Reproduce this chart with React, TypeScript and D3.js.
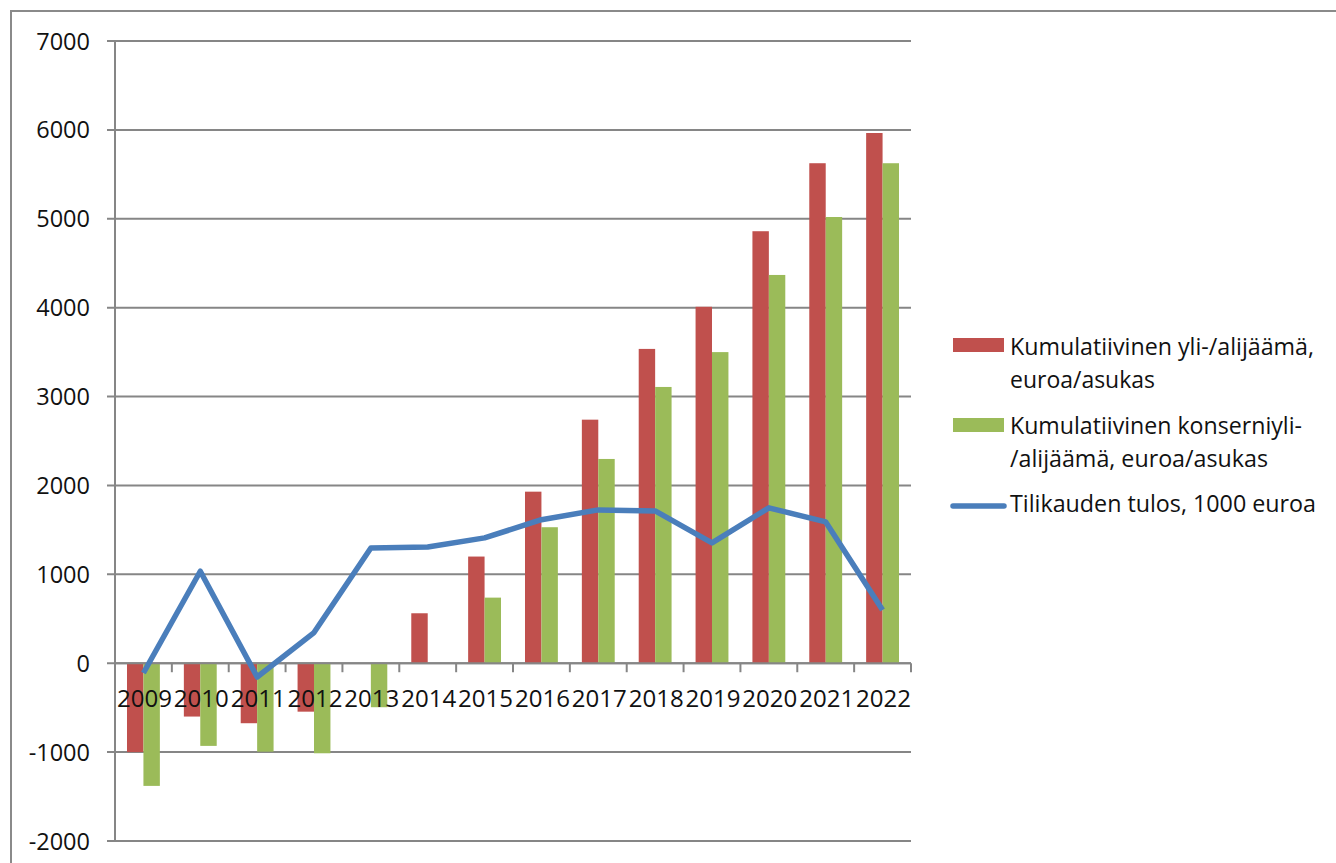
import React from "react";
import * as d3 from "d3";

const years = ["2009","2010","2011","2012","2013","2014","2015","2016","2017","2018","2019","2020","2021","2022"];
const kumulatiivinen = [-1000, -600, -675, -545, 0, 562, 1200, 1930, 2740, 3536, 4010, 4860, 5625, 5965];
const konserni = [-1380, -930, -995, -1013, -495, 0, 738, 1530, 2298, 3108, 3500, 4368, 5020, 5625];
const tulos = [-110, 1035, -155, 345, 1297, 1308, 1410, 1615, 1725, 1713, 1353, 1748, 1590, 600];
const yTicks = [-2000, -1000, 0, 1000, 2000, 3000, 4000, 5000, 6000, 7000];

const legendItems = [
  { lines: ["Kumulatiivinen yli-/alijäämä,", "euroa/asukas"], widths: [304, 145], color: "#C0504D", kind: "bar" },
  { lines: ["Kumulatiivinen konserniyli-", "/alijäämä, euroa/asukas"], widths: [292, 258], color: "#9BBB59", kind: "bar" },
  { lines: ["Tilikauden tulos, 1000 euroa"], widths: [306], color: "#4A7EBB", kind: "line" },
];

const W = 1336, H = 863;
const left = 115, right = 911, top = 41, bottom = 841;
const FONT = "'Open Sans', 'Liberation Sans', sans-serif";

export default function App() {
  const y = d3.scaleLinear().domain([-2000, 7000]).range([bottom, top]);
  const x = d3.scaleBand<string>().domain(years).range([left, right]).paddingInner(0).paddingOuter(0);
  const bw = x.bandwidth();
  const barW = bw * 0.289;
  const offset = (bw - 2 * barW) / 2;
  const y0 = y(0);
  const line = d3.line<number>().x((_, i) => (x(years[i]) as number) + bw / 2).y((d) => y(d)).curve(d3.curveLinear);
  const grid = "#868686";

  const legendTops = [355, 434, 512];
  const swatchCenters = [345, 425, 506];

  return (
    <svg width={W} height={H} style={{ position: "absolute", left: 0, top: 0, background: "#fff" }} fontFamily={FONT}>
      <rect x={11} y={11} width={W + 20} height={H + 20} fill="#fff" stroke="#8A8A8A" strokeWidth={2} />
      {yTicks.map((t) => (
        <g key={t}>
          <line x1={left - 8} x2={right} y1={y(t)} y2={y(t)} stroke={grid} strokeWidth={2} />
          <text x={90} y={y(t) + 8.5} textAnchor="end" fontSize={23.5} fill="#111">{t}</text>
        </g>
      ))}
      {years.map((yr, i) => (
        <g key={yr}>
          <rect x={(x(yr) as number) + offset} width={barW} y={Math.min(y(kumulatiivinen[i]), y0)} height={Math.abs(y(kumulatiivinen[i]) - y0)} fill="#C0504D" />
          <rect x={(x(yr) as number) + offset + barW} width={barW} y={Math.min(y(konserni[i]), y0)} height={Math.abs(y(konserni[i]) - y0)} fill="#9BBB59" />
        </g>
      ))}
      <line x1={left} x2={left} y1={top} y2={bottom} stroke={grid} strokeWidth={2} />
      <line x1={left} x2={right} y1={y0} y2={y0} stroke={grid} strokeWidth={2} />
      {years.map((yr) => (
        <line key={"t" + yr} x1={(x(yr) as number) + bw} x2={(x(yr) as number) + bw} y1={y0} y2={y0 + 9} stroke={grid} strokeWidth={2} />
      ))}
      <line x1={left} x2={left} y1={y0} y2={y0 + 9} stroke={grid} strokeWidth={2} />
      <path d={line(tulos) || ""} fill="none" stroke="#4A7EBB" strokeWidth={5.5} strokeLinejoin="round" strokeLinecap="butt" />
      {years.map((yr) => (
        <text key={"l" + yr} x={(x(yr) as number) + bw / 2 + 1} y={707} textAnchor="middle" fontSize={24} fill="#111" textLength={55} lengthAdjust="spacingAndGlyphs">{yr}</text>
      ))}
      {legendItems.map((it, k) => (
        <g key={k}>
          {it.kind === "bar" ? (
            <rect x={953} y={swatchCenters[k] - 7} width={51} height={14} fill={it.color} />
          ) : (
            <line x1={953} x2={1004} y1={swatchCenters[k]} y2={swatchCenters[k]} stroke={it.color} strokeWidth={5.5} strokeLinecap="round" />
          )}
          {it.lines.map((ln, j) => (
            <text key={j} x={1010} y={legendTops[k] + j * 33} fontSize={23.5} fill="#111" textLength={it.widths[j]} lengthAdjust="spacingAndGlyphs">{ln}</text>
          ))}
        </g>
      ))}
    </svg>
  );
}
